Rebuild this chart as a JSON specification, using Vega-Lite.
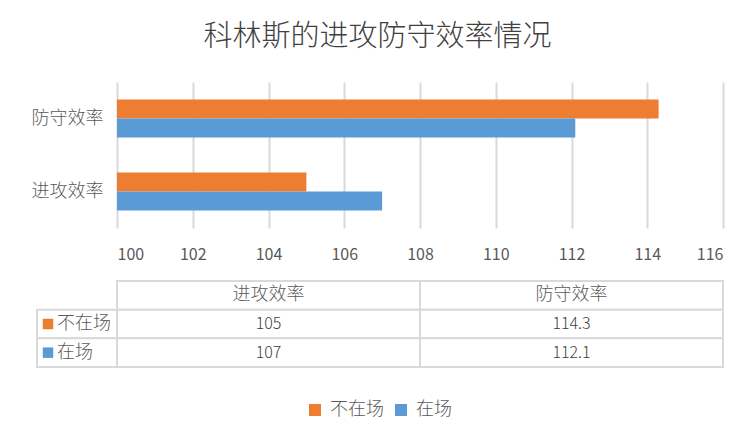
{
  "$schema": "https://vega.github.io/schema/vega-lite/v6.json",
  "padding": {"left": 31, "top": 23, "right": 5, "bottom": 5},
  "title": {"text": "科林斯的进攻防守效率情况", "fontSize": 29, "font": "Noto Sans CJK SC", "fontWeight": 300, "color": "#404040", "anchor": "middle", "offset": 30},
  "datasets": {
    "stats": [
      {"metric": "进攻效率", "series": "不在场", "value": 105},
      {"metric": "进攻效率", "series": "在场", "value": 107},
      {"metric": "防守效率", "series": "不在场", "value": 114.3},
      {"metric": "防守效率", "series": "在场", "value": 112.1}
    ]
  },
  "data": {"name": "stats"},
  "columns": 2,
  "bounds": "flush",
  "spacing": {"row": 53, "column": 0},
  "concat": [
    {
      "width": 80, "height": 146,
      "mark": {"type": "text", "opacity": 0},
      "encoding": {"text": {"value": ""}}
    },
    {
      "width": 606, "height": 146,
      "mark": {"type": "bar", "clip": true},
      "encoding": {
        "y": {"field": "metric", "type": "nominal", "sort": ["防守效率", "进攻效率"],
          "scale": {"paddingInner": 0.48, "paddingOuter": 0.24},
          "axis": {"title": null, "domain": false, "ticks": false, "tickSize": 0, "labelPadding": 14, "labelFontSize": 18, "labelColor": "#595959", "labelFont": "Noto Sans CJK SC", "labelFontWeight": 300}},
        "yOffset": {"field": "series", "type": "nominal", "sort": ["不在场", "在场"], "scale": {"paddingInner": 0, "paddingOuter": 0}},
        "x": {"field": "value", "type": "quantitative",
          "scale": {"domain": [100, 116], "nice": false, "zero": false},
          "axis": {"title": null, "values": [100, 102, 104, 106, 108, 110, 112, 114, 116], "grid": true, "gridColor": "#D9D9D9", "gridWidth": 2, "domain": false, "ticks": false, "tickSize": 0, "labelPadding": 18, "labelFontSize": 16, "labelColor": "#595959", "labelFont": "Noto Sans CJK SC"}},
        "color": {"field": "series", "type": "nominal",
          "scale": {"domain": ["不在场", "在场"], "range": ["#ED7D31", "#5B9BD5"]},
          "legend": {"orient": "none", "legendX": 269, "legendY": 319, "direction": "horizontal", "title": null, "symbolType": "square", "symbolSize": 144, "symbolStrokeWidth": 0, "labelFontSize": 18, "labelColor": "#595959", "labelFont": "Noto Sans CJK SC", "labelFontWeight": 300, "labelOffset": 6, "columnPadding": 8, "padding": 0}}
      }
    },
    {
      "width": 80, "height": 86,
      "transform": [{"filter": "datum.metric === '进攻效率'"}],
      "encoding": {
        "y": {"field": "series", "type": "nominal", "scale": {"domain": ["指标", "不在场", "在场"], "paddingInner": 0, "paddingOuter": 0}, "axis": null}
      },
      "layer": [
        {"mark": {"type": "rect", "fill": "white", "stroke": "#D9D9D9", "strokeWidth": 2}},
        {"mark": {"type": "point", "shape": "square", "filled": true, "size": 110, "opacity": 1, "xOffset": -29},
          "encoding": {"color": {"field": "series", "type": "nominal", "scale": {"domain": ["不在场", "在场"], "range": ["#ED7D31", "#5B9BD5"]}, "legend": null}}},
        {"mark": {"type": "text", "align": "left", "dx": -20, "fontSize": 18, "fontWeight": 300, "color": "#595959", "font": "Noto Sans CJK SC"},
          "encoding": {"text": {"field": "series"}}}
      ]
    },
    {
      "width": 606, "height": 86,
      "encoding": {
        "x": {"field": "metric", "type": "nominal", "sort": ["进攻效率", "防守效率"], "scale": {"paddingInner": 0, "paddingOuter": 0}, "axis": null}
      },
      "layer": [
        {"transform": [{"filter": "datum.series === '在场'"}],
          "mark": {"type": "rect", "fill": "white", "stroke": "#D9D9D9", "strokeWidth": 2},
          "encoding": {"y": {"datum": "指标", "type": "nominal", "scale": {"domain": ["指标", "不在场", "在场"], "paddingInner": 0, "paddingOuter": 0}, "axis": null}}},
        {"transform": [{"filter": "datum.series === '在场'"}],
          "mark": {"type": "text", "fontSize": 18, "fontWeight": 300, "color": "#595959", "font": "Noto Sans CJK SC"},
          "encoding": {"y": {"datum": "指标", "type": "nominal"}, "text": {"field": "metric"}}},
        {"mark": {"type": "rect", "fill": "white", "stroke": "#D9D9D9", "strokeWidth": 2},
          "encoding": {"y": {"field": "series", "type": "nominal"}}},
        {"mark": {"type": "text", "fontSize": 16, "fontWeight": 300, "color": "#404040", "font": "Noto Sans CJK SC"},
          "encoding": {"y": {"field": "series", "type": "nominal"}, "text": {"field": "value", "type": "quantitative"}}}
      ]
    }
  ],
  "resolve": {"scale": {"x": "independent", "y": "independent", "color": "shared"}},
  "config": {"view": {"stroke": null}, "font": "Noto Sans CJK SC"}
}
